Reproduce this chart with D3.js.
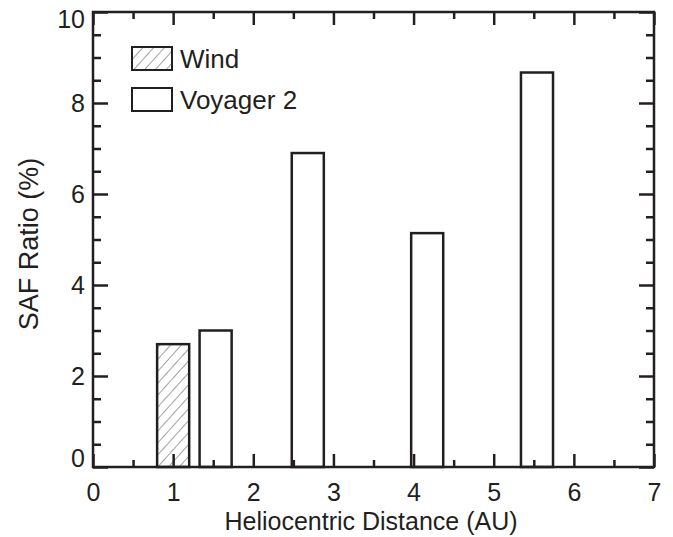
<!DOCTYPE html>
<html>
<head>
<meta charset="utf-8">
<script src="https://cdn.jsdelivr.net/npm/d3@7"></script>
<style>
  body { margin: 0; background: #fff; }
  svg text { font-family: "Liberation Sans", Arial, sans-serif; fill: #231f20; }
</style>
</head>
<body>
<div class="container"></div>
<script>
const WIDTH = 673;
const HEIGHT = 537;
const MARGIN = {top: 12, right: 19, bottom: 70, left: 93};

// data
var windDist = [1.0];
var windRatio = [2.7];
var voyDist = [1.53, 2.68, 4.17, 5.54];
var voyRatio = [3.0, 6.9, 5.14, 8.67];
var barWidth = 0.4;
var xTicks = [0, 1, 2, 3, 4, 5, 6, 7];
var yTicks = [0, 2, 4, 6, 8, 10];
var legendNames = ["Wind", "Voyager 2"];

var svg = d3.select(".container")
    .append("svg")
    .attr("width", WIDTH)
    .attr("height", HEIGHT);

var defs = svg.append("defs");
var pat = defs.append("pattern")
    .attr("id", "hatch")
    .attr("patternUnits", "userSpaceOnUse")
    .attr("width", 8)
    .attr("height", 8)
    .attr("patternTransform", "rotate(42)");
pat.append("rect").attr("width", 8).attr("height", 8).attr("fill", "#fff");
pat.append("line")
    .attr("x1", 0).attr("y1", 0).attr("x2", 0).attr("y2", 8)
    .attr("stroke", "#555")
    .attr("stroke-width", 1.1);

var innerW = WIDTH - MARGIN.left - MARGIN.right;
var innerH = HEIGHT - MARGIN.top - MARGIN.bottom;

var g = svg.append("g")
    .attr("transform", "translate(" + MARGIN.left + "," + MARGIN.top + ")");

var xScale = d3.scaleLinear().domain([0, 7]).range([0, innerW]);
var yScale = d3.scaleLinear().domain([0, 10]).range([innerH, 0]);

var minorX = d3.range(0.5, 7, 1);
var minorY = d3.range(0.5, 10, 0.5).filter(function (d) { return d % 2 !== 0; });

// bars
g.selectAll(".wind")
    .data(windDist)
    .enter().append("rect")
    .attr("x", function (d) { return xScale(d - barWidth / 2); })
    .attr("width", function (d) { return xScale(barWidth) - xScale(0); })
    .attr("y", function (d, i) { return yScale(windRatio[i]); })
    .attr("height", function (d, i) { return yScale(0) - yScale(windRatio[i]); })
    .attr("fill", "url(#hatch)")
    .attr("stroke", "#231f20")
    .attr("stroke-width", 2.5);

g.selectAll(".voy")
    .data(voyDist)
    .enter().append("rect")
    .attr("x", function (d) { return xScale(d - barWidth / 2); })
    .attr("width", function (d) { return xScale(barWidth) - xScale(0); })
    .attr("y", function (d, i) { return yScale(voyRatio[i]); })
    .attr("height", function (d, i) { return yScale(0) - yScale(voyRatio[i]); })
    .attr("fill", "#fff")
    .attr("stroke", "#231f20")
    .attr("stroke-width", 2.5);

function styleAxis(sel) {
    sel.select(".domain").remove();
    sel.selectAll("line").attr("stroke", "#231f20").attr("stroke-width", 2.5);
    sel.selectAll("text").attr("font-size", 25).attr("fill", "#231f20")
        .attr("font-family", "'Liberation Sans', Arial, sans-serif");
}

// x axes
g.append("g").attr("transform", "translate(0," + innerH + ")")
    .call(d3.axisBottom(xScale).tickValues(xTicks).tickSize(-13).tickPadding(16).tickFormat(d3.format("d")))
    .call(styleAxis);
g.append("g").attr("transform", "translate(0," + innerH + ")")
    .call(d3.axisBottom(xScale).tickValues(minorX).tickSize(-7).tickFormat(""))
    .call(styleAxis);
g.append("g")
    .call(d3.axisTop(xScale).tickValues(xTicks).tickSize(-13).tickFormat(""))
    .call(styleAxis);
g.append("g")
    .call(d3.axisTop(xScale).tickValues(minorX).tickSize(-7).tickFormat(""))
    .call(styleAxis);

// y axes
var yAx = g.append("g")
    .call(d3.axisLeft(yScale).tickValues(yTicks).tickSize(-15).tickPadding(8).tickFormat(d3.format("d")))
    .call(styleAxis);
yAx.selectAll(".tick text")
    .attr("dy", function (d) { return d === 0 ? "-0.02em" : (d === 10 ? "0.6em" : "0.34em"); });
g.append("g")
    .call(d3.axisLeft(yScale).tickValues(minorY).tickSize(-8).tickFormat(""))
    .call(styleAxis);
g.append("g").attr("transform", "translate(" + innerW + ",0)")
    .call(d3.axisRight(yScale).tickValues(yTicks).tickSize(-15).tickFormat(""))
    .call(styleAxis);
g.append("g").attr("transform", "translate(" + innerW + ",0)")
    .call(d3.axisRight(yScale).tickValues(minorY).tickSize(-8).tickFormat(""))
    .call(styleAxis);

// frame
g.append("rect")
    .attr("width", innerW)
    .attr("height", innerH)
    .attr("fill", "none")
    .attr("stroke", "#231f20")
    .attr("stroke-width", 2.5);

// titles
svg.append("text")
    .attr("x", 371)
    .attr("y", 530)
    .attr("text-anchor", "middle")
    .attr("font-size", 25)
    .text("Heliocentric Distance (AU)");

svg.append("text")
    .attr("transform", "translate(38,244) rotate(-90)")
    .attr("text-anchor", "middle")
    .attr("font-size", 27)
    .text("SAF Ratio (%)");

// legend
var legend = svg.append("g").attr("transform", "translate(132,47)");
var items = legend.selectAll("g")
    .data(legendNames)
    .enter().append("g")
    .attr("transform", function (d, i) { return "translate(0," + (i * 41) + ")"; });
items.append("rect")
    .attr("width", 40)
    .attr("height", 23)
    .attr("fill", function (d, i) { return i === 0 ? "url(#hatch)" : "#fff"; })
    .attr("stroke", "#231f20")
    .attr("stroke-width", 2);
items.append("text")
    .attr("x", 48)
    .attr("y", 21)
    .attr("font-size", 26)
    .text(function (d) { return d; });
</script>
</body>
</html>
